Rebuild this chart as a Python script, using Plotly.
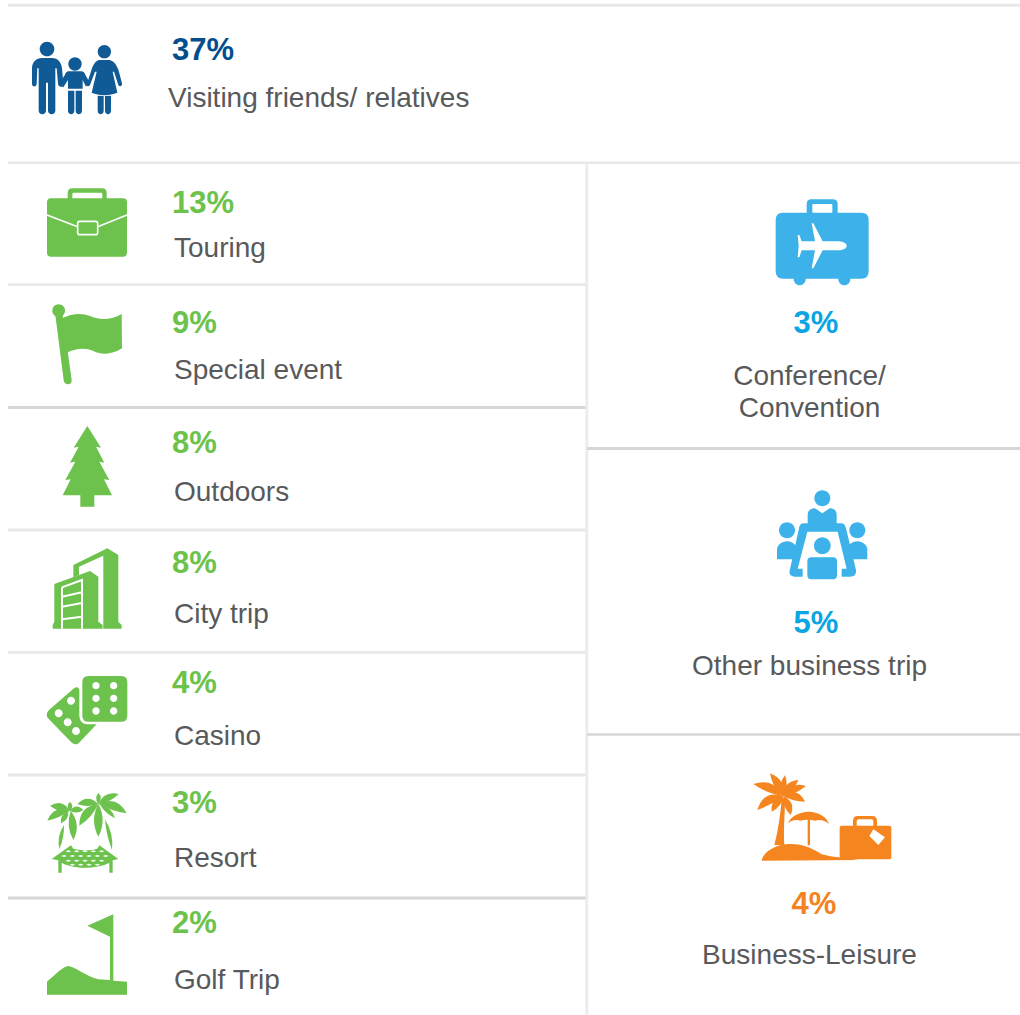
import math
import re
import plotly.graph_objects as go

# ---- data ----
top_label = ["Visiting friends/ relatives"]
top_value = ["37%"]
leisure_labels = ["Touring", "Special event", "Outdoors", "City trip", "Casino", "Resort", "Golf Trip"]
leisure_values = ["13%", "9%", "8%", "8%", "4%", "3%", "2%"]
business_lines = ["Conference/", "Convention", "Other business trip", "Business-Leisure"]
business_values = ["3%", "5%"]
mixed_values = ["4%"]

# ---- layout of the page (pixels) ----
W, H = 1020, 1015
NAVY, GREEN, CYAN, ORANGE, GREY = "#034e8c", "#6cc24a", "#0aa5e2", "#f58220", "#58595b"
FAMILY, ICON_GREEN, ICON_BLUE, ICON_ORANGE = "#105a96", "#6cc24c", "#3db2ea", "#f5851f"
FONT = "Liberation Sans, Arial, sans-serif"

leisure_value_y = [205, 325, 445, 565, 685, 805, 925]
leisure_label_y = [249.5, 371.5, 493.5, 615.5, 737.5, 859.5, 981.5]
business_line_y = [378, 410, 668, 957]
right_value_x = [816, 816]
right_value_y = [325, 625]

shapes = []


def tr(path, ox, oy, s=1 / 3):
    """Turn a path written in zoomed crop units into page pixels."""
    out, i = [], 0
    for tok in re.findall(r"[MLCQZ]|-?[\d.]+", path):
        if tok in "MLCQZ":
            out.append(tok)
        else:
            v = float(tok) * s + (ox if i % 2 == 0 else oy)
            out.append(f"{v:.2f}")
            i += 1
    return " ".join(out)


def circ(cx, cy, r):
    k = 0.5523 * r
    return (f"M{cx-r} {cy} C{cx-r} {cy-k} {cx-k} {cy-r} {cx} {cy-r} C{cx+k} {cy-r} {cx+r} {cy-k} {cx+r} {cy} "
            f"C{cx+r} {cy+k} {cx+k} {cy+r} {cx} {cy+r} C{cx-k} {cy+r} {cx-r} {cy+k} {cx-r} {cy} Z ")


def rrect(x0, y0, x1, y1, r):
    return (f"M{x0+r} {y0} L{x1-r} {y0} Q{x1} {y0} {x1} {y0+r} L{x1} {y1-r} Q{x1} {y1} {x1-r} {y1} "
            f"L{x0+r} {y1} Q{x0} {y1} {x0} {y1-r} L{x0} {y0+r} Q{x0} {y0} {x0+r} {y0} Z ")


def leaf(x0, y0, x1, y1, w, bend=0.25):
    dx, dy = x1 - x0, y1 - y0
    nx, ny = -dy, dx
    n = math.hypot(nx, ny) or 1
    nx, ny = nx / n, ny / n
    L = math.hypot(dx, dy)
    mx, my = x0 + dx / 2 + nx * L * bend, y0 + dy / 2 + ny * L * bend
    return (f"M{x0} {y0} Q{mx+nx*w:.1f} {my+ny*w:.1f} {x1} {y1} "
            f"Q{mx-nx*w:.1f} {my-ny*w:.1f} {x0} {y0} Z ")


def icon(path, ox, oy, fill, line=None, lw=0):
    shapes.append(dict(type="path", path=tr(path, ox, oy), xref="x", yref="y", layer="below",
                       fillcolor=fill if fill else "rgba(0,0,0,0)",
                       line=dict(color=line if line else "rgba(0,0,0,0)", width=lw)))


def rule(x0, y0, x1, y1, color, width):
    shapes.append(dict(type="line", x0=x0, y0=y0, x1=x1, y1=y1, xref="x", yref="y", layer="below",
                       line=dict(color=color, width=width)))


# ---- divider lines ----
LIGHT, DARK = "#e8e8e8", "#d6d6d6"
rule(8, 5.2, W, 5.2, LIGHT, 3)
rule(8, 162.8, W, 162.8, LIGHT, 2.4)
for y, c in [(284.7, LIGHT), (407.5, DARK), (530, LIGHT), (652.3, LIGHT), (775, LIGHT), (898, DARK)]:
    rule(8, y, 586, y, c, 2.8)
rule(586.8, 163, 586.8, H, "#ececec", 2.8)
rule(587, 448.5, W, 448.5, DARK, 2.8)
rule(587, 734.5, W, 734.5, DARK, 2.6)

# ---- family ----
for p in [circ(141, 147, 22), circ(225, 192, 20), circ(313, 155, 20),
          "M96 252 C96 262 110 262 110 252 L112 205 L116 205 L116 332 C116 346 138 346 138 332 L138 248 L144 248 "
          "L144 332 C144 346 166 346 166 332 L166 205 L170 205 L174 250 C175 265 190 262 190 250 L186 205 "
          "C184 185 172 174 157 174 L125 174 C110 174 96 185 96 205 Z",
          "M206 214 L244 214 C250 214 254 218 256 224 L268 246 L258 260 L248 240 L248 266 L204 266 L204 240 "
          "L190 262 L175 255 L195 224 C197 218 200 214 206 214 Z",
          "M204 272 L223 272 L223 332 C223 346 204 346 204 332 Z M227 272 L246 272 L246 332 C246 346 227 346 227 332 Z",
          "M298 180 L328 180 C342 182 350 195 356 212 L366 250 C368 260 356 262 354 252 L342 215 L338 215 L352 278 "
          "C330 288 296 288 275 278 L290 215 L285 215 L270 255 C265 262 258 260 262 248 L275 208 C280 192 288 182 298 180 Z",
          "M293 287 L311 288 L311 332 C311 346 293 346 293 332 Z M315 288 L333 287 L333 332 C333 346 315 346 315 332 Z"]:
    icon(p, 0, 0, FAMILY)

# ---- briefcase ----
icon(rrect(203, 565, 320, 610, 14) + rrect(217, 578, 307, 610, 4), 0, 0, ICON_GREEN)
icon(rrect(141, 595, 381, 770, 12), 0, 0, ICON_GREEN)
icon("M141 645 L233 680 M293 680 L381 645", 0, 0, None, "#ffffff", 1.6)
icon(rrect(233, 664, 293, 704, 6), 0, 0, ICON_GREEN, "#ffffff", 1.6)

# ---- flag ----
icon(circ(176, 62, 19), 0, 290, ICON_GREEN)
icon("M166 75 L191 270 C193 288 217 286 215 270 L188 75 Z", 0, 290, ICON_GREEN)
icon("M186 85 C215 70 245 68 270 78 C300 92 335 90 365 72 L366 175 C335 195 305 195 280 183 "
     "C255 172 225 175 198 190 Z", 0, 290, ICON_GREEN)

# ---- tree ----
icon("M262 408 L303 473 L288 470 L313 518 L298 515 L328 570 L312 568 L336 616 L283 616 L283 650 L241 650 "
     "L241 616 L188 616 L212 568 L196 570 L226 515 L210 518 L236 470 L221 473 Z", 0, 290, ICON_GREEN)

# ---- buildings ----
icon("M220 825 L322 775 L355 795 L355 995 L365 1005 L365 1016 L310 1016 L310 797 L237 830 L237 855 L220 862 Z",
     0, 290, ICON_GREEN)
icon("M163 882 L270 843 L295 860 L295 995 L308 1005 L308 1016 L158 1016 L158 1005 L163 995 Z", 0, 290, ICON_GREEN)
icon("M186 892 L246 870 L246 1016 M186 892 L186 1016 M186 920 L246 907 M186 950 L246 939 M186 988 L246 980",
     0, 290, None, "#ffffff", 2)

# ---- dice ----
dots_r = "".join(circ(x, y, 11) for x in (288, 341) for y in (77, 115, 153))
dots_l = "".join(circ(x, y, 12) for x, y in [(213, 122), (176, 160), (203, 187), (228, 213)])
icon(rrect(247, 48, 382, 185, 18) + dots_r, 0, 660, ICON_GREEN)
icon("M147 150 L222 85 C230 78 238 82 238 92 L238 165 C238 180 245 192 262 193 L290 193 L240 245 "
     "C232 255 222 255 214 247 L147 178 C138 170 138 160 147 150 Z " + dots_l, 0, 660, ICON_GREEN)

# ---- palms and hammock ----
fronds = [
    (210, 452, 150, 437, 22, .12), (210, 452, 142, 482, 22, .2), (210, 452, 210, 425, 14, 0),
    (210, 452, 250, 450, 18, -.12), (212, 452, 220, 540, 24, -.05), (205, 455, 183, 490, 16, .05),
    (295, 432, 232, 432, 22, .15), (295, 432, 296, 398, 14, 0), (295, 432, 356, 402, 20, -.12),
    (295, 432, 380, 460, 26, -.2), (295, 432, 238, 497, 26, .15), (295, 432, 295, 530, 26, 0),
    (300, 435, 345, 475, 14, -.1), (192, 495, 178, 568, 12, .05), (315, 478, 336, 570, 12, -.05),
]
for f in fronds:
    icon(leaf(*f[:5], f[5]), 0, 660, ICON_GREEN)
holes = ""
for row, y in enumerate((574, 588, 602, 614)):
    for k in range(7):
        x = 180 + row % 2 * 12 + k * 25
        if 182 + row * 6 < x < 330 - row * 6:
            holes += f"M{x-9} {y} L{x} {y-3} L{x+9} {y} L{x} {y+3} Z "
icon("M155 597 L213 556 L220 566 C250 572 270 572 292 566 L298 556 L355 597 L338 601 L338 638 L328 638 L328 608 "
     "C290 628 220 628 185 608 L185 638 L175 638 L175 601 Z " + holes, 0, 660, ICON_GREEN)

# ---- golf ----
icon("M141 965 C165 945 190 918 205 918 C225 920 260 950 295 958 L330 960 L330 830 L262 797 L340 763 L340 962 "
     "L381 965 L381 1004 L141 1004 Z", 0, 660, ICON_GREEN)

# ---- suitcase with plane ----
icon(rrect(230, 58, 323, 110, 14) + rrect(247, 72, 307, 110, 3), 730, 180, ICON_BLUE)
icon(circ(209, 298, 18), 730, 180, ICON_BLUE)
icon(circ(343, 298, 18), 730, 180, ICON_BLUE)
icon(rrect(137, 98, 416, 296, 22), 730, 180, ICON_BLUE)
icon("M350 197 C350 207 335 211 320 211 L278 211 L250 265 L245 265 L255 211 L215 211 L208 232 L203 232 L206 197 "
     "L203 165 L208 165 L215 184 L255 184 L245 130 L250 130 L278 184 L320 184 C335 184 350 188 350 197 Z",
     730, 180, "#ffffff")

# ---- meeting ----
for p in [circ(277, 55, 24), circ(171, 151, 24), circ(382, 151, 24), circ(277, 197, 25),
          "M233 128 L233 105 C233 90 245 85 255 85 L277 100 L299 85 C310 85 320 90 320 105 L320 135 L233 135 Z",
          "M141 238 L141 210 C141 195 155 184 172 184 C185 184 198 195 198 200 L188 238 Z",
          "M412 238 L412 210 C412 195 398 184 382 184 C368 184 355 195 355 200 L365 238 Z",
          rrect(232, 232, 321, 298, 12)]:
    icon(p, 730, 480, ICON_BLUE)
icon("M222 130 L332 130 C342 130 345 135 348 145 L378 270 C380 285 370 290 360 290 L335 290 L335 266 L350 266 "
     "L323 155 L232 155 L203 266 L218 266 L218 290 L195 290 C182 290 175 282 180 268 L207 145 C209 135 212 130 222 130 Z",
     730, 480, ICON_BLUE)

# ---- beach and suitcase ----
for f in [(160, 108, 70, 72, 26, .15), (160, 108, 120, 40, 24, .1), (160, 108, 165, 45, 18, -.05),
          (160, 108, 205, 60, 22, -.12), (160, 108, 228, 78, 22, -.15), (160, 108, 225, 125, 24, -.22),
          (160, 108, 182, 165, 22, -.12), (160, 108, 125, 155, 22, .1), (160, 108, 82, 150, 26, .22)]:
    icon(leaf(*f[:5], f[5]), 730, 760, ICON_ORANGE)
icon("M133 255 C145 210 152 160 155 115 L165 115 C165 160 160 210 163 255 Z", 730, 760, ICON_ORANGE)
icon("M95 302 C100 275 135 255 175 252 C215 250 250 265 275 283 C300 290 350 295 385 300 L95 302 Z", 730, 760, ICON_ORANGE)
icon("M174 190 C180 170 210 155 235 155 C265 155 290 170 297 192 C285 180 265 178 255 182 C240 178 225 178 212 182 "
     "C200 178 185 180 174 190 Z", 730, 760, ICON_ORANGE)
icon("M233 170 L240 170 L240 256 L233 256 Z", 730, 760, ICON_ORANGE)
icon(rrect(369, 168, 441, 210, 14) + rrect(380, 178, 430, 210, 6), 730, 760, ICON_ORANGE)
icon(rrect(329, 197, 484, 298, 6), 730, 760, ICON_ORANGE)
icon("M430 208 L465 232 L445 255 L418 228 Z", 730, 760, "#ffffff")

# ---- figure ----
fig = go.Figure()


def text_trace(xs, ys, labels, size, color, bold=False, pos="middle right"):
    fig.add_trace(go.Scatter(x=xs, y=ys, text=labels, mode="text", textposition=pos, hoverinfo="skip",
                             showlegend=False, cliponaxis=False,
                             textfont=dict(family=FONT, size=size, color=color,
                                           weight="bold" if bold else "normal")))


text_trace([172], [52], top_value, 31, NAVY, True)
text_trace([168], [99.5], top_label, 28, GREY)
text_trace([172] * 7, leisure_value_y, leisure_values, 31, GREEN, True)
text_trace([174] * 7, leisure_label_y, leisure_labels, 28, GREY)
text_trace(right_value_x, right_value_y, business_values, 31, CYAN, True, "middle center")
text_trace([814], [906], mixed_values, 31, ORANGE, True, "middle center")
text_trace([809.5] * 4, business_line_y, business_lines, 28, GREY, False, "middle center")

fig.update_layout(
    width=W, height=H, margin=dict(l=0, r=0, t=0, b=0), paper_bgcolor="white", plot_bgcolor="white",
    xaxis=dict(range=[0, W], visible=False, fixedrange=True),
    yaxis=dict(range=[H, 0], visible=False, fixedrange=True),
    shapes=shapes, showlegend=False,
)
fig.write_html("out.html", config=dict(displayModeBar=False),
               post_script="document.body.style.margin='0';document.body.style.overflow='hidden';")
